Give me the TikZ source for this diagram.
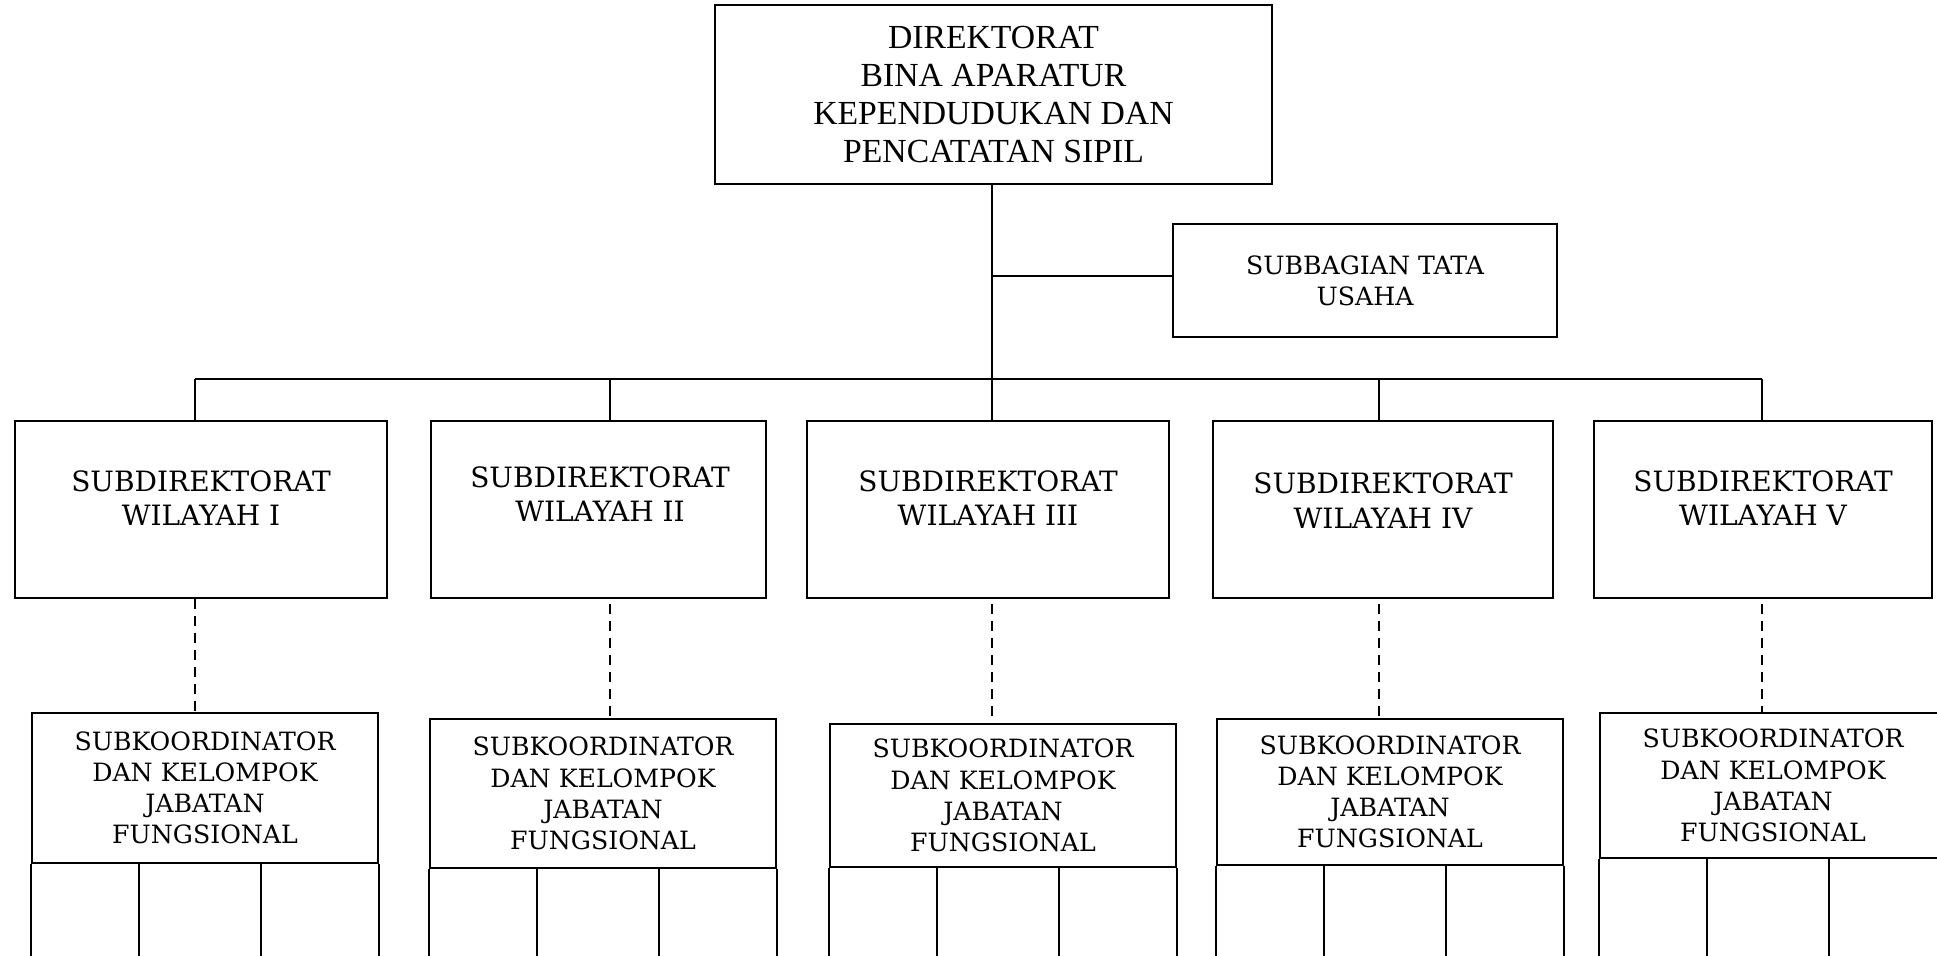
\documentclass[tikz,border=0pt]{standalone}
\usepackage{fontspec}
\setmainfont{DejaVu Serif}
\newfontfamily\topserif{Liberation Serif}
\begin{document}
\begin{tikzpicture}[x=0.5pt,y=-0.5pt,
  line width=1pt,
  box/.style={draw, line width=1pt, inner sep=0pt, align=center},
  topfont/.style={font=\topserif\fontsize{16.85}{19}\selectfont},
  dirfont/.style={font=\fontsize{14}{17.3}\selectfont},
  sbfont/.style={font=\fontsize{12.6}{15.4}\selectfont},
  kfont/.style={font=\fontsize{12.6}{15.6}\selectfont},
  dashline/.style={dashed, dash pattern=on 5pt off 3.5pt, line width=1.2pt},
  rowbox/.style={box, minimum height=88.5pt},
  kbox/.style={box, kfont, minimum width=173pt}
]
\useasboundingbox (0,0) rectangle (1937,956);

% top
\node[box, topfont, minimum width=278.5pt, minimum height=89.5pt] (top) at (993.5,94.5)
  {DIREKTORAT\\BINA APARATUR\\KEPENDUDUKAN DAN\\PENCATATAN SIPIL};
\node[box, sbfont, minimum width=192pt, minimum height=56.5pt] (sb) at (1365,280.5)
  {SUBBAGIAN TATA\\USAHA};

% row boxes
\node[rowbox, minimum width=186pt] (s1) at (201,509.5) {};
\node[rowbox, minimum width=167.5pt] (s2) at (598.5,509.5) {};
\node[rowbox, minimum width=181pt] (s3) at (988,509.5) {};
\node[rowbox, minimum width=170pt] (s4) at (1383,509.5) {};
\node[rowbox, minimum width=169pt] (s5) at (1763,509.5) {};

\node[dirfont, align=center] (t1) at (201,498) {SUBDIREKTORAT\\WILAYAH I};
\node[dirfont, align=center] (t2) at (600,494) {SUBDIREKTORAT\\WILAYAH II};
\node[dirfont, align=center] (t3) at (988,498) {SUBDIREKTORAT\\WILAYAH III};
\node[dirfont, align=center] (t4) at (1383,500.5) {SUBDIREKTORAT\\WILAYAH IV};
\node[dirfont, align=center] (t5) at (1763,498) {SUBDIREKTORAT\\WILAYAH V};

% subkoordinator boxes
\node[kbox, minimum height=75pt] (k1) at (205,788) {SUBKOORDINATOR\\DAN KELOMPOK\\JABATAN\\FUNGSIONAL};
\node[kbox, minimum height=74.5pt] (k2) at (603,793.5) {SUBKOORDINATOR\\DAN KELOMPOK\\JABATAN\\FUNGSIONAL};
\node[kbox, minimum height=71.5pt] (k3) at (1003,795.5) {SUBKOORDINATOR\\DAN KELOMPOK\\JABATAN\\FUNGSIONAL};
\node[kbox, minimum height=73pt] (k4) at (1390,792) {SUBKOORDINATOR\\DAN KELOMPOK\\JABATAN\\FUNGSIONAL};
\node[kbox, minimum height=72.5pt] (k5) at (1773,785.5) {SUBKOORDINATOR\\DAN KELOMPOK\\JABATAN\\FUNGSIONAL};

% lower column parts
\foreach \k in {k1,k2,k3,k4,k5}{
  \draw (\k.south west) -- ++(0,120);
  \draw (\k.south east) -- ++(0,120);
  \draw ([xshift=54pt]\k.south west) -- ++(0,120);
  \draw ([xshift=115pt]\k.south west) -- ++(0,120);
}

% bus coordinates
\coordinate (b1) at (195,379);
\coordinate (b2) at (610,379);
\coordinate (b3) at (992,379);
\coordinate (b4) at (1379,379);
\coordinate (b5) at (1762,379);
\coordinate (j) at (992,276);

\draw (top.south -| b3) -- (s3.north -| b3);
\draw (j) -- (j -| sb.west);
\draw (b1) -- (b5);
\foreach \i in {1,2,4,5}{
  \draw (b\i) -- (s\i.north -| b\i);
}
\draw[dashline] (s1.south -| b1) -- (k1.north -| b1);
\foreach \i in {2,...,5}{
  \draw[dashline] ([yshift=-2.5pt]s\i.south -| b\i) -- (k\i.north -| b\i);
}
\end{tikzpicture}
\end{document}
